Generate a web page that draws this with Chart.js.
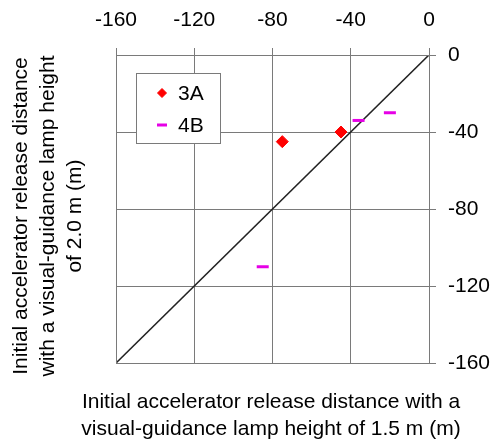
<!DOCTYPE html>
<html>
<head>
<meta charset="utf-8">
<script src="https://cdn.jsdelivr.net/npm/chart.js@4/dist/chart.umd.min.js"></script>
<style>
  html, body { margin: 0; padding: 0; background: #fff; }
  canvas { display: block; }
</style>
</head>
<body>
<canvas id="chart" width="501" height="443"></canvas>
<script>
// data
const TICKS = [-160, -120, -80, -40, 0];

const s3aX = [-75, -45];
const s3aY = [-45, -40];

const s4bX = [-85, -36, -20];
const s4bY = [-110, -34, -30];

// 1:1 reference line
const diagX = [-160, 0];
const diagY = [-160, 0];

const X_TITLE = [
  "Initial accelerator release distance with a",
  "visual-guidance lamp height of 1.5 m (m)",
];
const Y_TITLE = [
  "Initial accelerator release distance",
  "with a visual-guidance lamp height",
  "of 2.0 m (m)",
];

const FONT = '"Liberation Sans", Arial, sans-serif';
const GRID = "#7a7a7a";

function toPoints(xs, ys) {
  return xs.map((x, i) => ({ x: x, y: ys[i] }));
}

// top / right edges of the plot box (axis lines at the far side)
const plotFrame = {
  id: "plotFrame",
  afterDraw(chart) {
    const { ctx, chartArea: a } = chart;
    const l = Math.round(a.left), t = Math.round(a.top);
    const r = Math.round(a.right), b = Math.round(a.bottom);
    ctx.save();
    ctx.fillStyle = GRID;
    ctx.fillRect(l, t, r - l + 1, 1);
    ctx.fillRect(r, t, 1, b - t + 1);
    ctx.fillRect(l, b, r - l + 1, 1);
    ctx.fillRect(l, t, 1, b - t + 1);
    ctx.restore();
  },
};

// axis titles sit left / below the plot, so draw them by hand
const axisTitles = {
  id: "axisTitles",
  afterDraw(chart) {
    const ctx = chart.ctx;
    ctx.save();
    ctx.fillStyle = "#000";
    ctx.font = "21px " + FONT;
    ctx.textAlign = "center";
    ctx.textBaseline = "alphabetic";
    X_TITLE.forEach((line, i) => ctx.fillText(line, 271, 408 + i * 27));
    ctx.translate(0, 216);
    ctx.rotate(-Math.PI / 2);
    Y_TITLE.forEach((line, i) => ctx.fillText(line, 0, 27 + i * 27));
    ctx.restore();
  },
};

// boxed legend inside the plot, top-left
const boxLegend = {
  id: "boxLegend",
  afterDraw(chart) {
    const ctx = chart.ctx;
    const area = chart.chartArea;
    const bx = Math.round(area.left) + 20;
    const by = Math.round(area.top) + 18;
    ctx.save();
    ctx.fillStyle = "#fff";
    ctx.fillRect(bx, by, 84, 70);
    ctx.fillStyle = GRID;
    ctx.fillRect(bx, by, 85, 1);
    ctx.fillRect(bx, by + 70, 85, 1);
    ctx.fillRect(bx, by, 1, 71);
    ctx.fillRect(bx + 84, by, 1, 71);

    const items = chart.data.datasets.filter((d) => d.label);
    items.forEach((ds, i) => {
      const cy = by + 20 + i * 32;
      ctx.fillStyle = ds.backgroundColor;
      ctx.strokeStyle = ds.borderColor;
      ctx.lineWidth = ds.borderWidth;
      Chart.helpers.drawPoint(ctx, {
        pointStyle: ds.pointStyle,
        radius: ds.pointStyle === "line" ? 5 : 4.5,
        borderWidth: ds.borderWidth,
        rotation: 0,
      }, bx + 26, cy);
      ctx.fillStyle = "#000";
      ctx.font = "21px " + FONT;
      ctx.textAlign = "left";
      ctx.textBaseline = "middle";
      ctx.fillText(ds.label, bx + 42, cy + 1);
    });
    ctx.restore();
  },
};

new Chart(document.getElementById("chart"), {
  type: "scatter",
  data: {
    datasets: [
      {
        label: "3A",
        data: toPoints(s3aX, s3aY),
        pointStyle: "rectRot",
        pointRadius: 6,
        backgroundColor: "#ff0000",
        borderColor: "#ff0000",
        borderWidth: 1,
      },
      {
        label: "4B",
        data: toPoints(s4bX, s4bY),
        pointStyle: "line",
        pointRadius: 6,
        backgroundColor: "#e600e6",
        borderColor: "#e600e6",
        borderWidth: 3,
      },
      {
        data: toPoints(diagX, diagY),
        showLine: true,
        borderColor: "#222",
        borderWidth: 1.6,
        pointRadius: 0,
      },
    ],
  },
  options: {
    responsive: false,
    animation: false,
    layout: { padding: { left: 116, top: 0, right: 0, bottom: 80 } },
    plugins: {
      legend: { display: false },
      tooltip: { enabled: false },
    },
    scales: {
      x: {
        type: "linear",
        position: "top",
        min: TICKS[0],
        max: TICKS[TICKS.length - 1],
        afterFit: (scale) => { scale.height = 55; },
        afterBuildTicks: (scale) => { scale.ticks = TICKS.map((v) => ({ value: v })); },
        grid: { color: GRID, lineWidth: 1, tickLength: 7, tickColor: GRID },
        border: { color: GRID },
        ticks: { color: "#000", font: { family: FONT, size: 21 }, padding: 15, maxRotation: 0 },
      },
      y: {
        type: "linear",
        position: "right",
        min: TICKS[0],
        max: TICKS[TICKS.length - 1],
        afterFit: (scale) => { scale.width = 72; },
        afterBuildTicks: (scale) => { scale.ticks = TICKS.map((v) => ({ value: v })); },
        grid: { color: GRID, lineWidth: 1, tickLength: 7, tickColor: GRID },
        border: { color: GRID },
        ticks: { color: "#000", font: { family: FONT, size: 21 }, padding: 12 },
      },
    },
  },
  plugins: [plotFrame, axisTitles, boxLegend],
});
</script>
</body>
</html>
